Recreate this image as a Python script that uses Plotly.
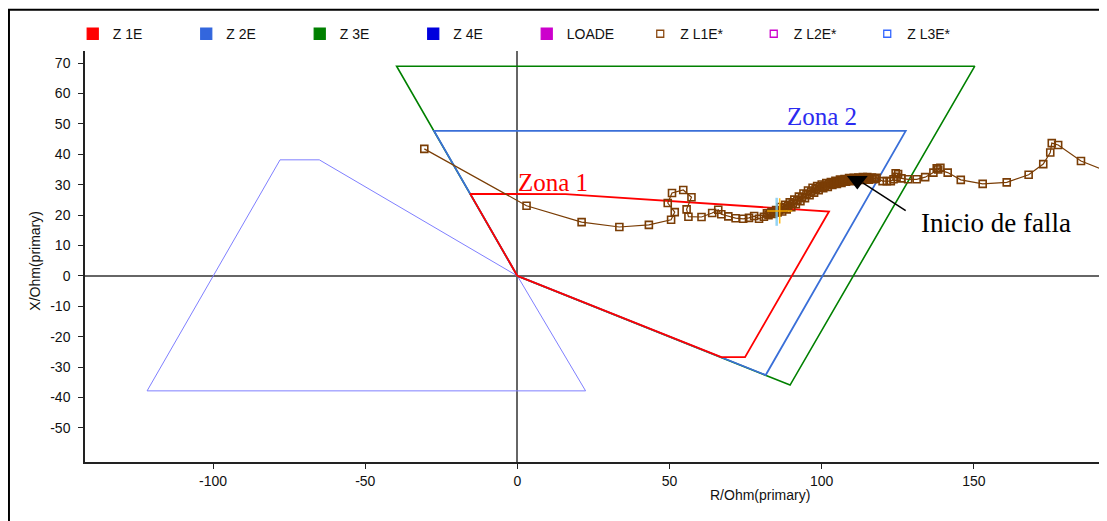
import plotly.graph_objects as go

# ---------------- data ----------------
# Zone polygons (R, X in Ohm primary)
z1_r = [0, -15.5, 15.8, 102.4, 74.8, 67.0, 0]
z1_x = [0, 27.0, 26.9, 21.2, -26.7, -26.7, 0]

z2_r = [0, -27.4, 127.6, 81.6, 0]
z2_x = [0, 47.7, 47.7, -32.6, 0]

z3_r = [0, -39.7, 150.3, 89.6, 0]
z3_x = [0, 69.0, 69.0, -35.9, 0]

z4_r = [0, -65.1, -78.0, -121.7, 22.4, 0]
z4_x = [0, 38.2, 38.2, -37.8, -37.8, 0]

# Impedance trajectory Z L1E*  (pre-fault swing, dense fault cloud, post-fault swing)
traj_r = [-30.6, 3.0, 21.1, 33.5, 43.2, 50.5, 51.7, 49.4, 50.8, 54.5, 57.2, 55.6, 56.2,
          60.5, 64.0, 66.0, 67.0, 69.3, 71.7, 74.2, 76.1, 77.8, 79.4, 81.0,
          82.0, 82.5, 83.0, 83.5, 84.0, 84.5, 85.0, 85.5, 86.0, 86.5, 87.0, 87.5,
          88.0, 88.5, 89.0, 89.5, 90.0, 90.5, 91.0, 91.5, 92.0, 92.5, 93.0, 93.5,
          94.0, 94.5, 95.0, 95.5, 96.0, 96.5, 97.0, 97.5, 98.0, 98.5, 99.0, 99.5,
          100.0, 100.5, 101.0, 101.5, 102.0, 102.5, 103.0, 103.5, 104.0, 104.5, 105.0, 105.5,
          106.0, 106.5, 107.0, 107.5, 108.0, 108.5, 109.0, 109.5, 110.0, 110.5, 111.0, 111.5,
          112.0, 112.5, 113.0, 113.5, 114.0, 114.5, 115.0, 115.5, 116.0, 116.5, 117.0, 117.5,
          118.0,
          120.0, 121.4, 122.7, 123.6, 124.3, 125.1, 124.6, 126.2, 128.4, 131.2, 134.0,
          136.7, 137.8, 139.0, 138.3, 141.4, 145.7, 152.9, 160.8, 168.0, 172.8, 175.1,
          175.6, 177.7, 185.2, 200.0]
traj_x = [41.8, 23.1, 17.7, 16.1, 16.8, 18.5, 21.0, 24.0, 27.3, 28.3, 25.9, 21.9, 19.5,
          19.4, 20.7, 21.8, 20.3, 19.6, 19.0, 18.8, 19.1, 19.7, 18.8, 19.5,
          20.6, 20.0, 20.5, 21.1, 20.4, 21.0, 21.7, 20.9, 21.6, 22.7, 21.2, 22.3,
          23.4, 21.9, 23.0, 24.2, 22.6, 23.8, 25.1, 23.6, 24.8, 26.1, 24.6, 25.9,
          27.1, 25.6, 26.9, 28.1, 26.6, 27.8, 29.0, 27.4, 28.6, 29.6, 28.2, 29.2,
          30.1, 28.9, 29.7, 30.6, 29.3, 30.2, 30.9, 29.9, 30.6, 31.3, 30.3, 31.0,
          31.7, 30.6, 31.3, 31.9, 31.0, 31.6, 32.2, 31.2, 31.8, 32.3, 31.5, 32.0,
          32.4, 31.6, 32.1, 32.5, 31.7, 32.1, 32.5, 31.7, 32.1, 32.4, 31.8, 32.0,
          32.3,
          31.2, 31.2, 31.2, 31.8, 33.8, 33.5, 32.6, 32.1, 31.8, 31.8, 32.5,
          34.0, 35.4, 35.6, 35.0, 34.0, 31.6, 30.3, 30.8, 33.3, 36.8, 40.6,
          43.7, 43.1, 37.8, 32.0]

# Fault-start marker and small cross markers
fault_r = [111.7]
fault_x = [31.4]
cross1_r, cross1_x = [85.2], [21.1]
cross2_r, cross2_x = [86.2], [21.4]

# Axis ticks (labels with plain hyphen minus, as in the original)
x_ticks = [-100, -50, 0, 50, 100, 150]
x_ticktext = ["-100", "-50", "0", "50", "100", "150"]
y_ticks = [70, 60, 50, 40, 30, 20, 10, 0, -10, -20, -30, -40, -50]
y_ticktext = ["70", "60", "50", "40", "30", "20", "10", "0", "-10", "-20", "-30", "-40", "-50"]

legend_names = ["Z 1E", "Z 2E", "Z 3E", "Z 4E", "LOADE", "Z L1E*", "Z L2E*", "Z L3E*"]
legend_colors = ["#FF0000", "#3366DD", "#008000", "#0000DD", "#CC00CC", "#8B4A12", "#CC00CC", "#3366FF"]
legend_symbols = ["square", "square", "square", "square", "square",
                  "square-open", "square-open", "square-open"]
legend_sizes = [11, 11, 11, 11, 11, 7, 7, 7]

BROWN = "#7A3D05"

# ---------------- figure ----------------
fig = go.Figure()

fig.add_trace(go.Scatter(x=z4_r, y=z4_x, mode="lines", line=dict(color="#7F7FFF", width=1),
                         showlegend=False, hoverinfo="skip"))
fig.add_trace(go.Scatter(x=z3_r, y=z3_x, mode="lines", line=dict(color="#008000", width=1.6),
                         showlegend=False))
fig.add_trace(go.Scatter(x=z2_r, y=z2_x, mode="lines", line=dict(color="#3A6FD8", width=1.8),
                         showlegend=False))
fig.add_trace(go.Scatter(x=z1_r, y=z1_x, mode="lines", line=dict(color="#FF0000", width=1.8),
                         showlegend=False))

fig.add_trace(go.Scatter(x=traj_r, y=traj_x, mode="lines+markers",
                         line=dict(color=BROWN, width=1.2),
                         marker=dict(symbol="square-open", size=7, color=BROWN,
                                     line=dict(width=1.6, color=BROWN)),
                         showlegend=False))

fig.add_trace(go.Scatter(x=cross1_r, y=cross1_x, mode="markers",
                         marker=dict(symbol="line-ns", size=20, line=dict(width=2.5, color="rgba(120,200,240,0.8)")),
                         showlegend=False))
fig.add_trace(go.Scatter(x=cross2_r, y=cross2_x, mode="markers",
                         marker=dict(symbol="cross-thin", size=18, line=dict(width=1.5, color="rgba(255,180,0,0.9)")),
                         showlegend=False))

fig.add_trace(go.Scatter(x=fault_r, y=fault_x, mode="markers",
                         marker=dict(symbol="triangle-down", size=18, color="black"),
                         showlegend=False))

# legend-only entries
for name, col, sym, sz in zip(legend_names, legend_colors, legend_symbols, legend_sizes):
    fig.add_trace(go.Scatter(x=[None], y=[None], mode="markers", name=name,
                             marker=dict(symbol=sym, size=sz, color=col,
                                         line=dict(width=1.3, color=col))))

# arrow line toward fault start
fig.add_shape(type="line", xref="x", yref="y", x0=127.6, y0=21.5, x1=113.5, y1=30.6,
              line=dict(color="black", width=1.5))

# outer frame (cropped on right and bottom)
fig.add_shape(type="rect", xref="paper", yref="paper", x0=-0.0744, x1=1.2, y0=-0.3, y1=1.1005,
              line=dict(color="black", width=2), layer="above")

fig.add_annotation(x=11.8, y=30.9, xref="x", yref="y", text="Zona 1", showarrow=False,
                   font=dict(family="Liberation Serif", size=25, color="#FF0000"))
fig.add_annotation(x=100.2, y=52.3, xref="x", yref="y", text="Zona 2", showarrow=False,
                   font=dict(family="Liberation Serif", size=25, color="#2B2BF0"))
fig.add_annotation(x=157.4, y=17.3, xref="x", yref="y", text="Inicio de falla", showarrow=False,
                   font=dict(family="Liberation Serif", size=27, color="black"))

fig.add_annotation(x=0.6605, y=-0.0803, xref="paper", yref="paper", text="R/Ohm(primary)",
                   xanchor="center", yanchor="middle",
                   showarrow=False, font=dict(family="Liberation Sans", size=14, color="#111"))
fig.add_annotation(x=-0.0489, y=0.49, xref="paper", yref="paper", text="X/Ohm(primary)",
                   xanchor="center", yanchor="middle",
                   textangle=-90, showarrow=False,
                   font=dict(family="Liberation Sans", size=14, color="#111"))

fig.update_xaxes(range=[-142.1, 193.75], tickvals=x_ticks, ticktext=x_ticktext, showgrid=False,
                 showline=True, linecolor="#222", linewidth=1.5, ticks="outside", ticklen=5,
                 tickcolor="#222", zeroline=True, zerolinecolor="#666", zerolinewidth=1.5,
                 tickfont=dict(family="Liberation Sans", size=14, color="#111"))
fig.update_yaxes(range=[-61.2, 74.0], tickvals=y_ticks, ticktext=y_ticktext, showgrid=False,
                 showline=True, linecolor="#222", linewidth=1.5, ticks="outside", ticklen=5,
                 tickcolor="#222", zeroline=True, zerolinecolor="#666", zerolinewidth=1.5,
                 ticklabelstandoff=5,
                 tickfont=dict(family="Liberation Sans", size=14, color="#111"))

# The page body adds an 8px offset, so margins are shifted by 8px to compensate.
fig.update_layout(
    width=1107, height=521,
    margin=dict(l=77, r=8, t=43, b=67, autoexpand=False),
    plot_bgcolor="white", paper_bgcolor="white",
    showlegend=True,
    legend=dict(orientation="h", x=-0.012, xanchor="left", y=1.041, yanchor="middle",
                entrywidth=68.5, entrywidthmode="pixels", itemwidth=30,
                font=dict(family="Liberation Sans", size=14, color="#111"),
                bgcolor="rgba(0,0,0,0)"),
)

fig.write_html("out.html")
